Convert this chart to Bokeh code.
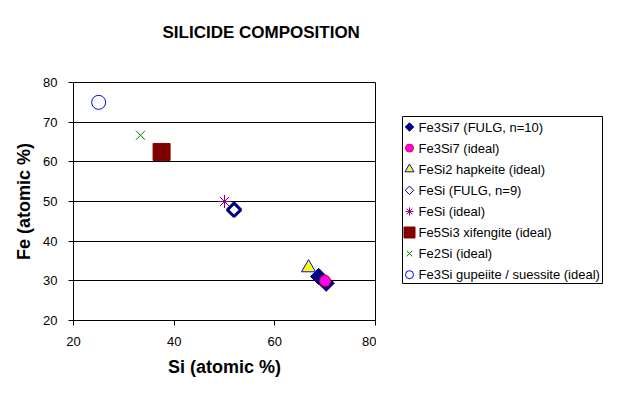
from bokeh.plotting import figure
from bokeh.models import Range1d, FixedTicker, Title
from bokeh.layouts import row
from bokeh.core.properties import value
from bokeh.embed import file_html
from bokeh.resources import INLINE
import numpy as np

# ---- data (Si, Fe in atomic %) ----
fe3si7_fulg_si = [68.7, 70.2]
fe3si7_fulg_fe = [31.1, 29.4]
fe3si7_ideal_si = [70.0]
fe3si7_ideal_fe = [30.0]
fesi2_si = [66.7]
fesi2_fe = [33.3]
fesi_fulg_si = [51.9]
fesi_fulg_fe = [47.9]
fesi_ideal_si = [50.0]
fesi_ideal_fe = [50.0]
fe5si3_si = [37.5]
fe5si3_fe = [62.5]
fe2si_si = [33.3]
fe2si_fe = [66.7]
fe3si_si = [25.0]
fe3si_fe = [75.0]

series_names = [
    "Fe3Si7 (FULG, n=10)",
    "Fe3Si7 (ideal)",
    "FeSi2 hapkeite (ideal)",
    "FeSi (FULG, n=9)",
    "FeSi (ideal)",
    "Fe5Si3 xifengite (ideal)",
    "Fe2Si (ideal)",
    "Fe3Si gupeiite / suessite (ideal)",
]
x_ticks = [20, 40, 60, 80]
y_ticks = [20, 30, 40, 50, 60, 70, 80]

FONT = "Liberation Sans"
D45 = np.pi / 4

# marker styles: (marker, angle, plot size, legend size, fill, line, plot line width)
styles = [
    ("square", D45, 11.5, 6, "#000080", "#000080", 1),
    ("circle", 0, 11, 8, "#FF00FF", "#FF0000", 1),
    ("triangle", 0, 14, 9, "#FFFF00", "#0000FF", 1),
    ("square", D45, 9.5, 6, None, "#000080", 3),
    ("asterisk", 0, 13, 8, None, "#800080", 1),
    ("square", 0, 17, 11, "#800000", "#800000", 1),
    ("x", 0, 13, 8, None, "#008000", 1),
    ("circle", 0, 14, 8, None, "#0000FF", 1),
]
series_si = [fe3si7_fulg_si, fe3si7_ideal_si, fesi2_si, fesi_fulg_si,
             fesi_ideal_si, fe5si3_si, fe2si_si, fe3si_si]
series_fe = [fe3si7_fulg_fe, fe3si7_ideal_fe, fesi2_fe, fesi_fulg_fe,
             fesi_ideal_fe, fe5si3_fe, fe2si_fe, fe3si_fe]

TOP, BOTTOM, H = 82, 60, 380

# ---------------- main chart ----------------
p = figure(width=376, height=H, output_backend="svg", toolbar_location=None,
           x_range=Range1d(20, 80), y_range=Range1d(20, 80),
           min_border_left=73, min_border_right=1,
           min_border_top=TOP, min_border_bottom=BOTTOM)
p.background_fill_color = "white"
p.border_fill_color = "white"
p.outline_line_color = "black"
p.outline_line_width = 1
p.xgrid.grid_line_color = None
p.ygrid.grid_line_color = "black"
p.ygrid.grid_line_width = 1
p.xaxis.ticker = FixedTicker(ticks=x_ticks)
p.yaxis.ticker = FixedTicker(ticks=y_ticks)

for ax in (p.xaxis[0], p.yaxis[0]):
    ax.axis_line_color = "black"
    ax.major_tick_line_color = "black"
    ax.minor_tick_line_color = None
    ax.major_tick_in = 0
    ax.major_tick_out = 5
    ax.major_label_text_font = FONT
    ax.major_label_text_font_size = "13px"
    ax.major_label_text_color = "black"
    ax.major_label_standoff = 11
    ax.axis_label_text_font = FONT
    ax.axis_label_text_font_size = "18px"
    ax.axis_label_text_font_style = "bold"
    ax.axis_label_text_color = "black"

p.xaxis.axis_label = "Si (atomic %)"
p.yaxis.axis_label = "Fe (atomic %)"
p.xaxis.axis_label_standoff = 8
p.yaxis.axis_label_standoff = 6

for (mk, ang, sz, lsz, fc, lc, lw), xs, ys in zip(styles, series_si, series_fe):
    p.scatter(xs, ys, marker=mk, angle=ang, size=sz, fill_color=fc,
              line_color=lc, line_width=lw)

# spacer between the frame and the title
p.add_layout(Title(text=" ", text_font_size="10px", standoff=27), "above")
p.title.text = "SILICIDE COMPOSITION"
p.title.align = "left"
p.title.offset = 89
p.title.standoff = 0
p.title.vertical_align = "middle"
p.title.text_font = FONT
p.title.text_font_size = "17px"
p.title.text_font_style = "bold"
p.title.text_color = "black"

# ---------------- legend panel (same frame rows as the chart) ----------------
n = len(series_names)
frame_h = H - TOP - BOTTOM
box_top = 116 - TOP
box_h = 167
lg = figure(width=227, height=H, output_backend="svg", toolbar_location=None,
            x_range=Range1d(-6, 201), y_range=Range1d(frame_h, 0),
            x_axis_location=None, y_axis_location=None,
            min_border_left=20, min_border_right=0,
            min_border_top=TOP, min_border_bottom=BOTTOM)
lg.grid.visible = False
lg.background_fill_color = "white"
lg.border_fill_color = "white"
lg.outline_line_color = None

lg.quad(left=[0], right=[200], top=[box_top], bottom=[box_top + box_h],
        fill_color="white", line_color="black", line_width=1)
row_y = [box_top + 10.5 + 21.1 * i for i in range(n)]
for i, (mk, ang, sz, lsz, fc, lc, lw) in enumerate(styles):
    lg.scatter([7], [row_y[i]], marker=mk, angle=ang, size=lsz, fill_color=fc,
               line_color=lc, line_width=1)
lg.text(x=[16] * n, y=row_y, text=series_names, text_font=value(FONT),
        text_font_size="13px", text_baseline="middle", text_align="left",
        text_color="black")

layout = row(p, lg)
open("out.html", "w").write(file_html(layout, INLINE))
